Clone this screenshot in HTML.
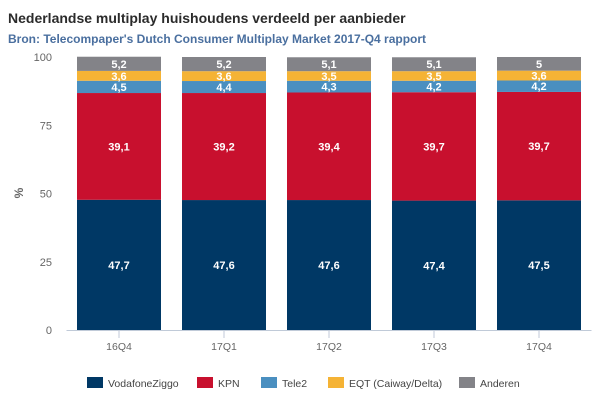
<!DOCTYPE html>
<html><head><meta charset="utf-8"><style>
body{margin:0;background:#fff;font-family:"Liberation Sans",Arial,sans-serif}
</style></head><body>
<svg id="c" width="601" height="402" xmlns="http://www.w3.org/2000/svg">
<text x="8" y="23" font-size="14" font-weight="bold" fill="#2b2b2b">Nederlandse multiplay huishoudens verdeeld per aanbieder</text>
<text x="8" y="43" font-size="12" font-weight="bold" fill="#4a6f9f">Bron: Telecompaper's Dutch Consumer Multiplay Market 2017-Q4 rapport</text>
<text transform="translate(23,193) rotate(-90)" text-anchor="middle" font-size="12" font-weight="bold" fill="#666">%</text>
<g id="grid"></g><g id="bars"></g><g id="legend"></g>
</svg>
<script>
const categories=["16Q4","17Q1","17Q2","17Q3","17Q4"];
const seriesNames=["VodafoneZiggo","KPN","Tele2","EQT (Caiway/Delta)","Anderen"];
const vodafone=[47.7,47.6,47.6,47.4,47.5];
const kpn=[39.1,39.2,39.4,39.7,39.7];
const tele2=[4.5,4.4,4.3,4.2,4.2];
const eqt=[3.6,3.6,3.5,3.5,3.6];
const anderen=[5.2,5.2,5.1,5.1,5];
const labels=[["47,7","47,6","47,6","47,4","47,5"],["39,1","39,2","39,4","39,7","39,7"],["4,5","4,4","4,3","4,2","4,2"],["3,6","3,6","3,5","3,5","3,6"],["5,2","5,2","5,1","5,1","5"]];
const yTicks=[0,25,50,75,100];
const colors=["#003865","#c8102e","#4a8fc0","#f5b335","#838388"];
const series=[vodafone,kpn,tele2,eqt,anderen];
const NS="http://www.w3.org/2000/svg";
const L=66.5,R=591.5,Y0=330,Y1=57;
const y=v=>Y0-(v/100)*(Y0-Y1);
const band=(R-L)/categories.length;
const x=i=>L+band*i;
function mk(t,a,p){const e=document.createElementNS(NS,t);for(const k in a)e.setAttribute(k,a[k]);p.appendChild(e);return e;}
const grid=document.getElementById('grid');
yTicks.forEach(t=>{
 const tx=mk('text',{x:52,y:y(t)+4,'text-anchor':'end','font-size':11,fill:'#666'},grid);tx.textContent=t;
 
 
});
const ax=mk('line',{x1:L,x2:R,y1:Y0+0.5,y2:Y0+0.5,stroke:'#c0cad8'},grid);


const bars=document.getElementById('bars');
categories.forEach((c,i)=>{
 const bx=x(i)+band*0.1,bw=band*0.8;let acc=0;
 series.forEach((s,j)=>{
  const top=y(acc+s[i]),bot=y(acc);
  const r=mk('rect',{x:bx,y:top,width:bw,height:bot-top,fill:colors[j]},bars);
  
  
  const t=mk('text',{x:bx+bw/2,y:(top+bot)/2+4,'text-anchor':'middle','font-size':11,'font-weight':'bold',fill:'#fff'},bars);
  t.textContent=labels[j][i];
  
  
  acc+=s[i];
 });
 const cx=x(i)+band/2;
 const tk=mk('line',{x1:cx,x2:cx,y1:Y0,y2:Y0+8,stroke:'#c0cad8'},grid);
 
 
 const tl=mk('text',{x:cx,y:Y0+20,'text-anchor':'middle','font-size':10.5,fill:'#666'},grid);
 tl.textContent=c;
 
 
});
const lg=document.getElementById('legend');
const lx=[87,197,261,328,459];
seriesNames.forEach((n,j)=>{
 const g=mk('g',{},lg);
 
 
 mk('rect',{x:lx[j],y:377,width:16,height:11,fill:colors[j]},g);
 const t=mk('text',{x:lx[j]+21,y:387,'font-size':10.5,fill:'#444'},g);t.textContent=n;
});
</script>
</body></html>
